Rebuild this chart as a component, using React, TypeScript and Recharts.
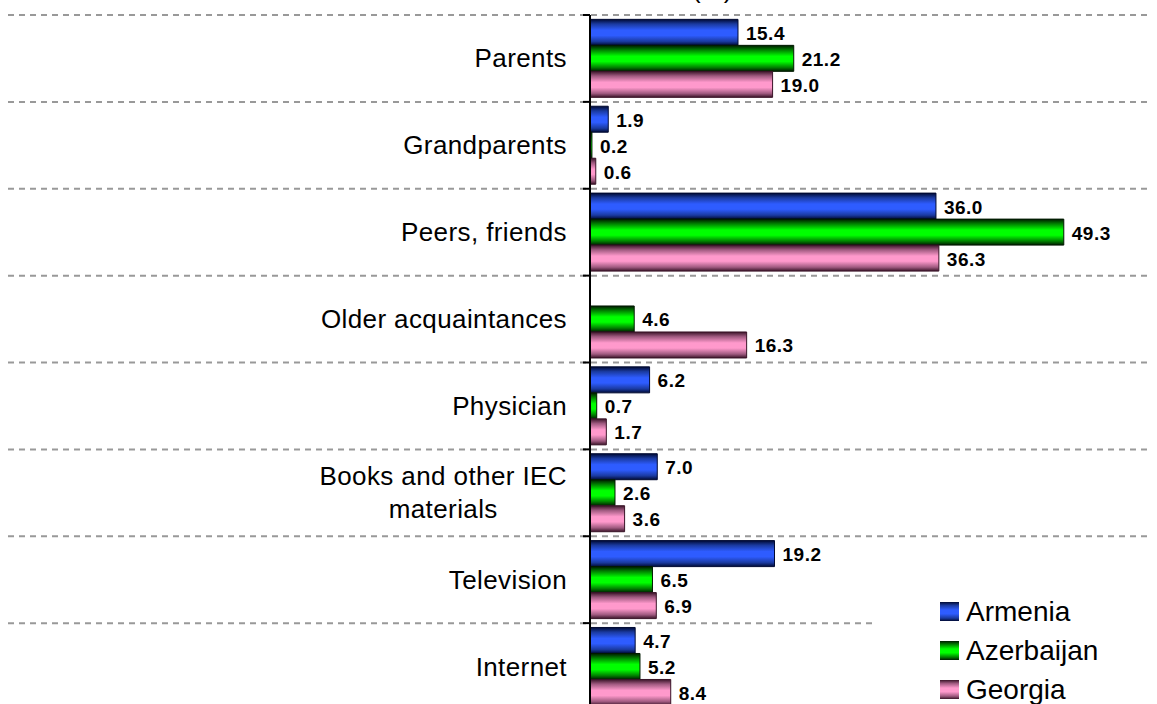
import React from 'react';
import { BarChart, Bar, XAxis, YAxis, LabelList } from 'recharts';

const categories = [
  'Parents', 'Grandparents', 'Peers, friends', 'Older acquaintances',
  'Physician', 'Books and other IEC materials', 'Television', 'Internet'
];
const armenia = [15.4, 1.9, 36.0, null, 6.2, 7.0, 19.2, 4.7];
const azerbaijan = [21.2, 0.2, 49.3, 4.6, 0.7, 2.6, 6.5, 5.2];
const georgia = [19.0, 0.6, 36.3, 16.3, 1.7, 3.6, 6.9, 8.4];
const seriesNames = ['Armenia', 'Azerbaijan', 'Georgia'];
const unitLabel = '(%)';

const FONT = '"Liberation Sans", Arial, sans-serif';
const CHART_W = 1157;
const CHART_H = 712;
const TOP = 15;
const BOTTOM = 2;
const AXIS_X = 590;
const BAND = (CHART_H - TOP - BOTTOM) / categories.length;

const series = [
  { name: seriesNames[0], grad: 'gBlue', edge: '#000a33', dark: '#000a33', mid: '#1a3aa0', bright: '#2e5cff' },
  { name: seriesNames[1], grad: 'gGreen', edge: '#001a00', dark: '#001a00', mid: '#008000', bright: '#00ff00' },
  { name: seriesNames[2], grad: 'gPink', edge: '#3a1428', dark: '#3a1428', mid: '#a05a80', bright: '#ff99cc' },
];

const rows = categories.map((name, i) => ({
  name,
  Armenia: armenia[i],
  Azerbaijan: azerbaijan[i],
  Georgia: georgia[i],
}));

// crude word wrap using canvas text measuring
let ctx: CanvasRenderingContext2D | null = null;
const measure = (s: string, size: number, ls: number) => {
  if (!ctx) ctx = document.createElement('canvas').getContext('2d');
  if (!ctx) return s.length * size * 0.5;
  ctx.font = `${size}px ${FONT}`;
  return ctx.measureText(s).width + s.length * ls;
};
const wrap = (s: string, maxW: number, size: number, ls: number) => {
  const words = s.split(' ');
  const lines: string[] = [];
  let cur = '';
  words.forEach(w => {
    const test = cur ? cur + ' ' + w : w;
    if (cur && measure(test, size, ls) > maxW) {
      lines.push(cur);
      cur = w;
    } else cur = test;
  });
  if (cur) lines.push(cur);
  return lines;
};

const LABEL_SIZE = 26;
const LABEL_LS = 0.4;

const CategoryTick = (props: any) => {
  const { y, payload, index } = props;
  const lines = wrap(String(payload.value), 290, LABEL_SIZE, LABEL_LS);
  const widths = lines.map(l => measure(l, LABEL_SIZE, LABEL_LS));
  const maxW = Math.max(...widths);
  const cx = AXIS_X - 23 - maxW / 2;
  const lineH = 33;
  const firstBase = y + 9 - ((lines.length - 1) * lineH) / 2;
  const top = y - BAND / 2;
  return (
    <g>
      <line x1={8} x2={1152} y1={top} y2={top} stroke="#999" strokeWidth={2} strokeDasharray="6 5" />
      <line x1={AXIS_X - 7} x2={AXIS_X} y1={top} y2={top} stroke="#000" strokeWidth={2} />
      {index === 0 && (
        <text x={692} y={-2} fontFamily={FONT} fontSize={26} fill="#000">{unitLabel}</text>
      )}
      {lines.map((l, i) => (
        <text
          key={i}
          x={lines.length > 1 ? cx : AXIS_X - 23}
          y={firstBase + i * lineH}
          textAnchor={lines.length > 1 ? 'middle' : 'end'}
          fontFamily={FONT}
          fontSize={LABEL_SIZE}
          letterSpacing={LABEL_LS}
          fill="#000"
        >
          {l}
        </text>
      ))}
    </g>
  );
};

const ValueLabel = (props: any) => {
  const { x, y, width, height, value } = props;
  if (value === null || value === undefined) return null;
  return (
    <text
      x={Number(x) + Number(width) + 8}
      y={Number(y) + Number(height) / 2 + 7.5}
      fontFamily={FONT}
      fontSize={19}
      fontWeight="bold"
      letterSpacing={0.5}
      fill="#000"
    >
      {Number(value).toFixed(1)}
    </text>
  );
};

const App = () => {
  return (
    <div style={{ position: 'absolute', left: 0, top: 0, width: CHART_W, height: 704, overflow: 'hidden', background: '#fff' }}>
      <BarChart
        layout="vertical"
        width={CHART_W}
        height={CHART_H}
        data={rows}
        margin={{ top: TOP, right: 0, bottom: BOTTOM, left: 0 }}
        barCategoryGap="5%"
        barGap={0}
      >
        <defs>
          {series.map(s => (
            <linearGradient key={s.grad} id={s.grad} x1="0" y1="0" x2="0" y2="1">
              <stop offset="0%" stopColor={s.dark} />
              <stop offset="18%" stopColor={s.mid} />
              <stop offset="42%" stopColor={s.bright} />
              <stop offset="62%" stopColor={s.bright} />
              <stop offset="85%" stopColor={s.mid} />
              <stop offset="100%" stopColor={s.dark} />
            </linearGradient>
          ))}
        </defs>
        <XAxis type="number" domain={[0, 59]} hide />
        <YAxis
          type="category"
          dataKey="name"
          width={AXIS_X}
          interval={0}
          axisLine={{ stroke: '#000', strokeWidth: 2 }}
          tickLine={false}
          tick={(p: any) => <CategoryTick {...p} />}
        />
        {series.map(s => (
          <Bar
            key={s.name}
            dataKey={s.name}
            fill={`url(#${s.grad})`}
            stroke={s.edge}
            strokeWidth={1}
            isAnimationActive={false}
          >
            <LabelList dataKey={s.name} content={ValueLabel} />
          </Bar>
        ))}
      </BarChart>
      <div style={{ position: 'absolute', left: 872, top: 588, width: 285, height: 116, background: '#fff', fontFamily: FONT }}>
        {series.map((s, i) => (
          <div key={s.name} style={{ position: 'absolute', left: 0, top: 4 + i * 39, height: 39, display: 'flex', alignItems: 'center' }}>
            <div
              style={{
                marginLeft: 68,
                width: 19,
                height: 19,
                background: `linear-gradient(to bottom, ${s.dark}, ${s.mid} 18%, ${s.bright} 42%, ${s.bright} 62%, ${s.mid} 85%, ${s.dark})`,
              }}
            />
            <span style={{ marginLeft: 7, fontSize: 28, color: '#000', lineHeight: '39px' }}>{s.name}</span>
          </div>
        ))}
      </div>
    </div>
  );
};

export default App;
